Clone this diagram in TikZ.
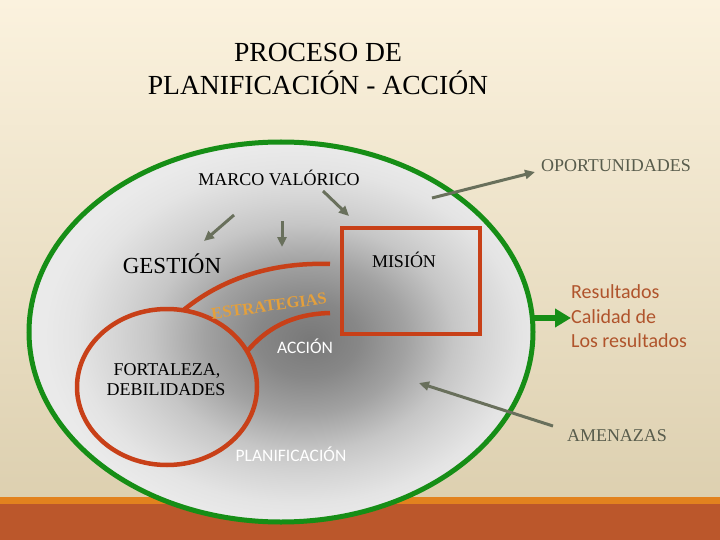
\documentclass[tikz,border=0pt]{standalone}
\usepackage{fontspec}
\setmainfont{Liberation Serif}
\newfontfamily\calib{Carlito}
\usetikzlibrary{shapes.geometric,arrows.meta}
\definecolor{bgtop}{RGB}{251,242,222}
\definecolor{bgbot}{RGB}{221,208,176}
\definecolor{bandor}{RGB}{226,130,30}
\definecolor{bandrust}{RGB}{187,87,43}
\definecolor{elgreen}{RGB}{22,142,22}
\definecolor{rustred}{RGB}{200,64,24}
\definecolor{arrgray}{RGB}{105,112,92}
\definecolor{labgray}{RGB}{88,92,76}
\definecolor{goldtxt}{RGB}{228,160,60}
\definecolor{resbrown}{RGB}{176,84,44}
\definecolor{ga}{RGB}{120,120,120}
\definecolor{gb}{RGB}{135,135,135}
\definecolor{gc}{RGB}{162,162,162}
\definecolor{ge}{RGB}{198,198,198}
\definecolor{gf}{RGB}{212,212,212}
\definecolor{gg}{RGB}{228,228,228}
\definecolor{gd}{RGB}{234,234,234}
\pgfdeclareradialshading{ellgray}{\pgfpoint{3bp}{-1bp}}{color(0bp)=(ga); color(5bp)=(gb); color(10bp)=(gc); color(15bp)=(ge); color(18bp)=(gf); color(22bp)=(gg); color(25bp)=(gd); color(50bp)=(gd)}
\tikzset{
  serifbig/.style={inner sep=0pt, anchor=base, font=\fontsize{27.6}{33}\selectfont},
  seriflab/.style={inner sep=0pt, anchor=base, font=\fontsize{18}{20}\selectfont},
  outlab/.style={seriflab, text=labgray},
  whitelab/.style={inner sep=0pt, anchor=base, text=white, font=\calib\fontsize{17.5}{20}\selectfont},
  grayarrow/.style={draw=arrgray, line width=3pt, -{Triangle[length=10pt,width=9pt]}},
  redline/.style={draw=rustred, line width=4.5pt},
  restext/.style={inner sep=0pt, anchor=base west, text=resbrown, font=\calib\fontsize{20}{24.5}\selectfont},
}
\begin{document}
\begin{tikzpicture}[x=1pt,y=-1pt]
\useasboundingbox (0,0) rectangle (720,540);
% background
\shade[top color=bgtop, bottom color=bgbot] (0,0) rectangle (720,498);
\fill[bandor] (0,497) rectangle (720,504);
\fill[bandrust] (0,504) rectangle (720,540);
% main ellipse
\node[ellipse, draw=elgreen, line width=5pt, shading=ellgray, minimum width=504pt, minimum height=380pt, inner sep=0pt, outer sep=0pt] (amb) at (281,332) {};
% title
\node[serifbig] (t1) at (318,62) {PROCESO DE};
\node[serifbig] (t2) at (318,95) {PLANIFICACIÓN - ACCIÓN};
% labels
\node[seriflab] (marco) at (279,186) {MARCO VALÓRICO};
\node[inner sep=0pt, anchor=base, font=\fontsize{23}{26}\selectfont] (gest) at (172,273) {GESTIÓN};
\node[outlab] (opor) at (616,172) {OPORTUNIDADES};
\node[outlab] (amen) at (617,441) {AMENAZAS};
% misión box
\node[rectangle, redline, minimum width=138pt, minimum height=106pt, inner sep=0pt, outer sep=0pt] (mbox) at (411,281) {};
\node[seriflab] (mis) at (404,267) {MISIÓN};
% fortaleza circle
\node[ellipse, redline, minimum width=180pt, minimum height=156pt, inner sep=0pt, outer sep=0pt] (fd) at (167,387) {};
\node[seriflab] (fd1) at (167,375) {FORTALEZA,};
\node[seriflab] (fd2) at (166,395) {DEBILIDADES};
% strategy curves
\coordinate (sEnd) at (330,264);
\coordinate (aEnd) at (330,313);
\draw[redline] (fd.78) .. controls (220,280) and (270,262) .. (sEnd);
\draw[redline] (fd.24) .. controls (265,330) and (290,314) .. (aEnd);
\node[inner sep=0pt, text=goldtxt, rotate=8, font=\bfseries\fontsize{16.5}{18}\selectfont] (estr) at (269,306) {ESTRATEGIAS};
\node[whitelab] (acc) at (305,353) {ACCIÓN};
\node[whitelab] (plan) at (291,461) {PLANIFICACIÓN};
% results
\node[restext] (r1) at (571,298) {Resultados};
\node[restext] (r2) at (571,323) {Calidad de};
\node[restext] (r3) at (571,347) {Los resultados};
% arrows
\coordinate (a1s) at (234,215); \coordinate (a1e) at (204,241);
\coordinate (a2s) at (282,221); \coordinate (a2e) at (282,247);
\coordinate (a3s) at (323,191); \coordinate (a3e) at (349,216);
\coordinate (a4s) at (432,198); \coordinate (a4e) at (535,172);
\coordinate (a5s) at (553,426); \coordinate (a5e) at (419,383);
\draw[grayarrow] (a1s) -- (a1e);
\draw[grayarrow] (a2s) -- (a2e);
\draw[grayarrow] (a3s) -- (a3e);
\draw[grayarrow] (a4s) -- (a4e);
\draw[grayarrow] (a5s) -- (a5e);
\coordinate (gs) at (531,318); \coordinate (ge) at (571,318);
\draw[draw=elgreen, line width=6pt, -{Triangle[length=16pt,width=18pt]}] (gs) -- (ge);
\end{tikzpicture}
\end{document}
